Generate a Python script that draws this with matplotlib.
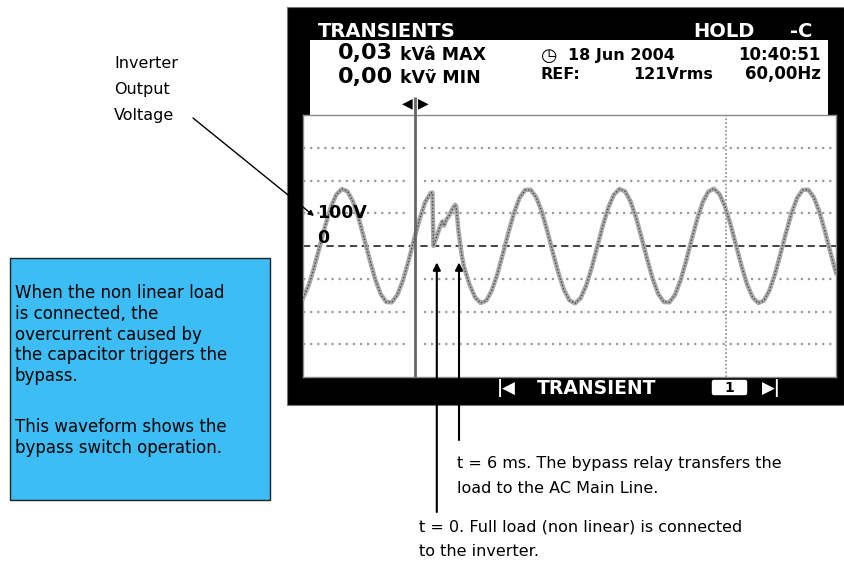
import matplotlib
matplotlib.use("Agg")
import matplotlib.pyplot as plt
from matplotlib.patches import Rectangle, FancyBboxPatch

# ---------------- data ----------------
TIME_MS = [0, 1, 2, 3, 4, 5, 6, 7, 8, 9, 10, 11, 12, 13, 14, 15, 16, 17, 18, 19,
           20, 21, 22, 23, 23.3, 23.5, 24.1, 24.7, 25.1, 25.4, 25.8, 26.4, 26.8,
           27.4, 27.6, 28.0, 28.6, 29, 30, 31, 32, 33, 34, 35, 36, 37, 38, 39,
           40, 41, 42, 43, 44, 45, 46, 47, 48, 49, 50, 51, 52, 53, 54, 55, 56,
           57, 58, 59, 60, 61, 62, 63, 64, 65, 66, 67, 68, 69, 70, 71, 72, 73,
           74, 75, 76, 77, 78, 79, 80, 81, 82, 83, 84, 85, 86, 87, 88, 89, 90,
           91, 92, 93, 94, 95, 96]
VOLTS = [-159, -121, -66, -2, 62, 118, 157, 174, 167, 136, 86, 24, -41, -101,
         -147, -171, -172, -149, -105, -46, 20, 82, 134, 162, 163, 0, 30, 60,
         75, 62, 80, 95, 110, 126, 120, 47, -29, -64, -118, -157, -174, -167,
         -136, -86, -24, 41, 101, 147, 171, 172, 149, 105, 46, -20, -82, -134,
         -166, -175, -159, -121, -66, -2, 62, 118, 157, 174, 167, 136, 86, 24,
         -41, -101, -147, -171, -172, -149, -105, -46, 20, 82, 134, 166, 175,
         159, 121, 66, 2, -62, -118, -157, -174, -167, -136, -86, -24, 41, 101,
         147, 171, 172, 149, 105, 46, -20, -82]

GRID_VOLTS = [-300, -200, -100, 100, 200, 300]
CURSOR_MS = 20.2
MARKER_MS = 76.2
T_LOAD_MS = 24.1      # t = 0 : load connected
T_BYPASS_MS = 28.1    # t = 6 ms : bypass relay
ARROW_V = -50

HEADER_TITLE = "TRANSIENTS"
HEADER_HOLD = "HOLD"
MAX_VAL, MIN_VAL = "0,03", "0,00"
DATE_TXT, TIME_TXT = "18 Jun 2004", "10:40:51"
REF_TXT, VRMS_TXT, FREQ_TXT = "REF:", "121Vrms", "60,00Hz"

BOX_LINES_1 = ["When the non linear load", "is connected, the",
               "overcurrent caused by", "the capacitor triggers the", "bypass."]
BOX_LINES_2 = ["This waveform shows the", "bypass switch operation."]
LABEL_LINES = ["Inverter", "Output", "Voltage"]
NOTE_BYPASS = ["t = 6 ms. The bypass relay transfers the", "load to the AC Main Line."]
NOTE_LOAD = ["t = 0. Full load (non linear) is connected", "to the inverter."]

# ---------------- figure ----------------
W, H = 844, 561
fig = plt.figure(figsize=(W / 100, H / 100), dpi=100)
fig.patch.set_facecolor("white")

bg = fig.add_axes([0, 0, 1, 1], zorder=0)
bg.set_xlim(0, W); bg.set_ylim(H, 0); bg.axis("off")
fg = fig.add_axes([0, 0, 1, 1], zorder=3)
fg.set_xlim(0, W); fg.set_ylim(H, 0); fg.axis("off")

PL, PR, PT, PB = 303, 836, 115, 377
sc = fig.add_axes([PL / W, 1 - PB / H, (PR - PL) / W, (PB - PT) / H], zorder=2)
sc.set_facecolor("white")
sc.set_xlim(0, 96); sc.set_ylim(-400, 400)
sc.set_xticks([]); sc.set_yticks([])
for s in sc.spines.values():
    s.set_color("#8a8a8a"); s.set_linewidth(1)


def to_fg(t, v):
    x, y = sc.transData.transform((t, v))
    return x, H - y


# scope frame
bg.add_patch(Rectangle((287, 7), 557, 398, fc="black", ec="#777", lw=0.8))
bg.add_patch(Rectangle((310, 40), 518, 75, fc="white", ec="none"))

B = dict(family="DejaVu Sans", fontweight="bold")
bg.text(318, 31, HEADER_TITLE, color="white", fontsize=14, va="center", **B)
bg.text(693, 31, HEADER_HOLD, color="white", fontsize=14, va="center", **B)
bg.text(790, 31, "-C", color="white", fontsize=14, va="center", **B)

bg.text(338, 53, MAX_VAL, fontsize=16, va="center", **B)
bg.text(338, 77, MIN_VAL, fontsize=16, va="center", **B)
bg.text(400, 55, "kV\u00e2 MAX", fontsize=12.5, va="center", **B)
bg.text(400, 78, "kV\u1e7d MIN", fontsize=12.5, va="center", **B)
bg.text(541, 55, "\u25f7", fontsize=13.5, va="center", family="DejaVu Sans")
bg.text(568, 55, DATE_TXT, fontsize=11.5, va="center", **B)
bg.text(821, 55, TIME_TXT, fontsize=12, va="center", ha="right", **B)
bg.text(541, 74, REF_TXT, fontsize=11.5, va="center", **B)
bg.text(713, 74, VRMS_TXT, fontsize=11.5, va="center", ha="right", **B)
bg.text(821, 74, FREQ_TXT, fontsize=12, va="center", ha="right", **B)

# bottom strip of the scope
bg.text(497, 388, "|\u25c0", color="white", fontsize=12, va="center", **B)
bg.text(537, 388, "TRANSIENT", color="white", fontsize=13.5, va="center", **B)
bg.add_patch(FancyBboxPatch((714, 382), 31, 11, boxstyle="round,pad=1.5",
                            fc="white", ec="white"))
bg.text(729.5, 388, "1", color="black", fontsize=10, va="center", ha="center", **B)
bg.text(762, 388, "\u25b6|", color="white", fontsize=12, va="center", **B)

# scope screen
for v in GRID_VOLTS:
    sc.axhline(v, color="#9a9a9a", lw=1.6, ls=(0, (1, 2.2)), zorder=1)
sc.axvspan(CURSOR_MS - 1.5, CURSOR_MS + 1.5, color="white", zorder=1.5, lw=0)
sc.axvline(MARKER_MS, color="#8a8a8a", lw=1.2, ls=(0, (1, 1.3)), zorder=1.6)
sc.axhline(0, color="#333333", lw=1.3, ls=(0, (4, 2.5)), zorder=2)
sc.plot(TIME_MS, VOLTS, color="#a9a9a9", lw=3.2, solid_joinstyle="round", zorder=3)
sc.plot(TIME_MS, VOLTS, color="#4d4d4d", lw=1.0, ls=(0, (1, 1.4)), zorder=3.1)
sc.text(2.6, 100, "100V", fontsize=12.5, va="center", ha="left", zorder=5, **B)
sc.text(2.5, 23, "0", fontsize=12.5, va="center", ha="left", zorder=5, **B)

# cursor through header
xc, _ = to_fg(CURSOR_MS, 0)
fg.plot([xc, xc], [97, PB], color="#666666", lw=2, solid_capstyle="butt")
fg.text(xc - 2.5, 103, "\u25c0", fontsize=10, ha="right", va="center", family="DejaVu Sans")
fg.text(xc + 2.5, 103, "\u25b6", fontsize=10, ha="left", va="center", family="DejaVu Sans")

# event arrows
AP = dict(arrowstyle="-|>", color="black", lw=1.5, mutation_scale=11, shrinkA=0, shrinkB=0)
xl, yl = to_fg(T_LOAD_MS, ARROW_V)
fg.annotate("", xy=(xl, yl), xytext=(xl, 512), arrowprops=AP)
xb, yb = to_fg(T_BYPASS_MS, ARROW_V)
fg.annotate("", xy=(xb, yb), xytext=(xb, 440), arrowprops=AP)

# inverter output voltage label + leader
for i, s in enumerate(LABEL_LINES):
    bg.text(114, 63 + 26 * i, s, fontsize=11.5, va="center", family="DejaVu Sans")
fg.annotate("", xy=(314, 216), xytext=(193, 118),
            arrowprops=dict(arrowstyle="-|>", color="black", lw=1, mutation_scale=8,
                            shrinkA=0, shrinkB=0))

# blue box
bg.add_patch(Rectangle((10, 258), 260, 242, fc="#3dbdf5", ec="#222222", lw=1))
for i, s in enumerate(BOX_LINES_1):
    bg.text(15, 293 + 20.8 * i, s, fontsize=12, va="center", family="DejaVu Sans")
for i, s in enumerate(BOX_LINES_2):
    bg.text(15, 427 + 21 * i, s, fontsize=12, va="center", family="DejaVu Sans")

# notes under the scope
for i, s in enumerate(NOTE_BYPASS):
    bg.text(457, 463 + 25 * i, s, fontsize=11.5, va="center", family="DejaVu Sans")
for i, s in enumerate(NOTE_LOAD):
    bg.text(419, 527 + 25 * i, s, fontsize=11.5, va="center", family="DejaVu Sans")

fig.savefig("out.png", dpi=100)
